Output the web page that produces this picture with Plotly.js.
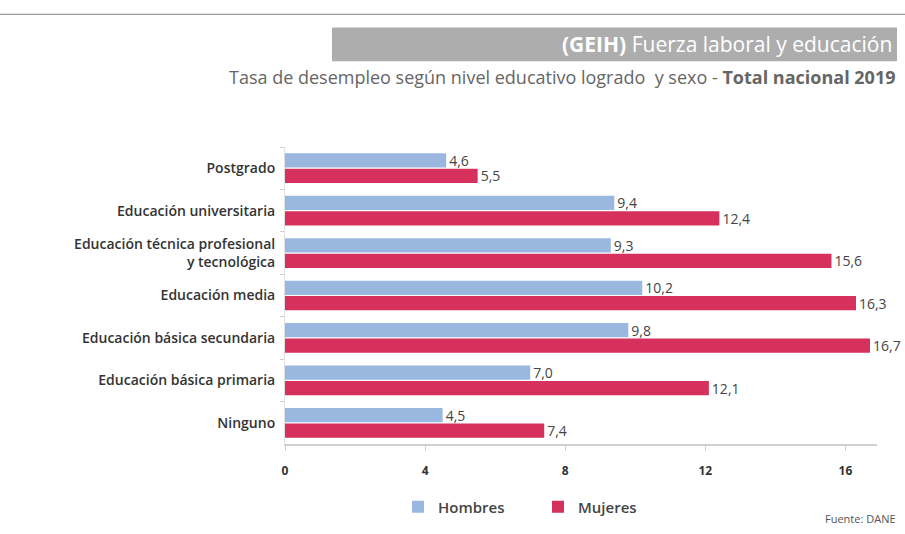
<!DOCTYPE html>
<html>
<head>
<meta charset="utf-8">
<script src="https://cdn.plot.ly/plotly-3.0.1.min.js"></script>
<style>html,body{margin:0;padding:0;background:#fff;}#chart{width:905px;height:534px;}</style>
</head>
<body>
<div id="chart"></div>
<script>
var categories = [
  'Postgrado',
  'Educación universitaria',
  'Educación técnica profesional<br>y tecnológica',
  'Educación media',
  'Educación básica secundaria',
  'Educación básica primaria',
  'Ninguno'
];
var hombres = [4.6, 9.4, 9.3, 10.2, 9.8, 7.0, 4.5];
var mujeres = [5.5, 12.4, 15.6, 16.3, 16.7, 12.1, 7.4];
var xTicks = [0, 4, 8, 12, 16];
var seriesNames = ['Hombres', 'Mujeres'];

var FONT = 'Open Sans, Liberation Sans, sans-serif';

function barTrace(name, vals, color) {
  return {
    type: 'bar', orientation: 'h', name: name,
    y: categories, x: vals,
    marker: {color: color},
    texttemplate: '%{x:.1f}', textposition: 'outside',
    textfont: {family: FONT, size: 14, color: '#444'},
    constraintext: 'none', cliponaxis: false,
    hoverinfo: 'skip'
  };
}

var data = [
  barTrace(seriesNames[0], hombres, '#99b7df'),
  barTrace(seriesNames[1], mujeres, '#d6305c')
];

var L = 285, R = 877, T = 147, B = 445;
function px(x){ return (x - L) / (R - L); }
function py(y){ return (B - y) / (B - T); }

var layout = {
  width: 905, height: 534,
  margin: {l: L, r: 905 - R, t: T, b: 534 - B},
  paper_bgcolor: '#fff', plot_bgcolor: '#fff',
  font: {family: FONT, color: '#333'},
  separators: ',.',
  barmode: 'group', bargap: 0.27, bargroupgap: 0.08,
  showlegend: true,
  legend: {
    orientation: 'h', x: px(398), y: py(507), xanchor: 'left', yanchor: 'middle',
    font: {family: FONT, size: 15, color: '#444', weight: 600},
    traceorder: 'normal', entrywidth: 95, entrywidthmode: 'pixels'
  },
  xaxis: {
    range: [0, 16.9], tickvals: xTicks, ticktext: xTicks.map(String),
    showgrid: false, zeroline: false,
    showline: true, linecolor: '#cfcfcf', linewidth: 1.5,
    ticks: 'outside', ticklen: 5, tickcolor: '#cfcfcf',
    tickfont: {family: FONT, size: 12, color: '#333', weight: 'bold'},
    ticklabelstandoff: 10, fixedrange: true
  },
  yaxis: {
    type: 'category', autorange: 'reversed',
    showgrid: false, zeroline: false,
    showline: true, linecolor: '#e0e0e0', linewidth: 1,
    ticks: 'outside', ticklen: 4, tickcolor: '#cfcfcf', tickson: 'boundaries',
    tickfont: {family: FONT, size: 14, color: '#333', weight: 600},
    ticklabelstandoff: 6, fixedrange: true
  },
  shapes: [
    {type: 'line', xref: 'paper', yref: 'paper', x0: px(0), x1: px(905), y0: py(14), y1: py(14),
     line: {color: '#9a9a9a', width: 1.2}},
    {type: 'rect', xref: 'paper', yref: 'paper', x0: px(332), x1: px(897), y0: py(61), y1: py(27),
     fillcolor: '#adadad', line: {width: 0}}
  ],
  annotations: [
    {xref: 'paper', yref: 'paper', x: px(894), y: py(44), xanchor: 'right', yanchor: 'middle',
     showarrow: false, text: '<b>(GEIH)</b> Fuerza laboral y educación',
     font: {family: FONT, size: 21, color: '#ffffff'}},
    {xref: 'paper', yref: 'paper', x: px(898), y: py(77), xanchor: 'right', yanchor: 'middle',
     showarrow: false, text: 'Tasa de desempleo según nivel educativo logrado  y sexo - <b>Total nacional 2019</b>',
     font: {family: FONT, size: 18, color: '#666'}},
    {xref: 'paper', yref: 'paper', x: px(898), y: py(520), xanchor: 'right', yanchor: 'middle',
     showarrow: false, text: 'Fuente: DANE',
     font: {family: FONT, size: 11, color: '#555'}}
  ]
};

Plotly.newPlot('chart', data, layout, {displayModeBar: false, staticPlot: true});
</script>
</body>
</html>
